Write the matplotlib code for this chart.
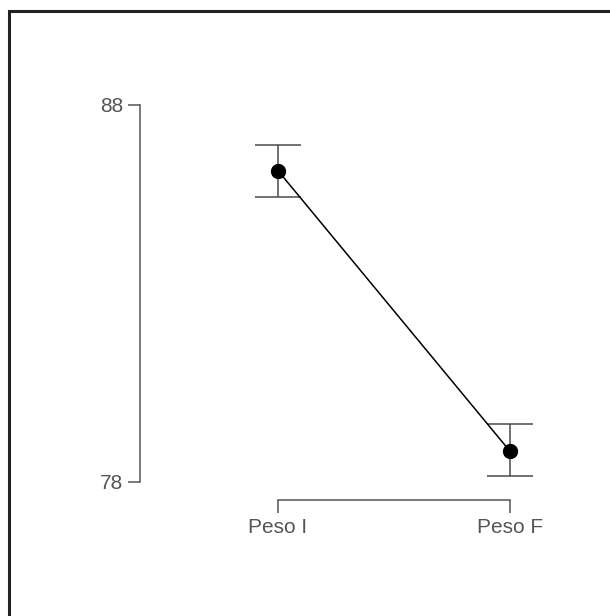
import matplotlib
matplotlib.use("Agg")
import matplotlib.pyplot as plt
from matplotlib.patches import Rectangle

# --- DATA ---
conditions = ["Peso I", "Peso F"]
means = [86.26, 78.82]
ci_lower = [85.57, 78.14]
ci_upper = [86.95, 79.52]
y_ticks = [78, 88]

plt.rcParams["font.family"] = ["Liberation Sans", "DejaVu Sans"]

W, H = 610, 616
fig = plt.figure(figsize=(W / 100, H / 100), dpi=100)

# axes placed so that the y spine sits at x=140 px and the 78..88 range spans 105..482 px
ax = fig.add_axes([140 / W, 1 - 481.7 / H, (556 - 140) / W, (481.7 - 105) / H])
ax.set_xlim(-0.595, 1.2)
ax.set_ylim(78, 88)

x = list(range(len(conditions)))
yerr = [[m - lo for m, lo in zip(means, ci_lower)],
        [hi - m for m, hi in zip(means, ci_upper)]]

ax.errorbar(x, means, yerr=yerr, fmt="none", ecolor="#4a4a4a",
            elinewidth=1.1, capsize=16.5, capthick=1.1, zorder=2)
ax.plot(x, means, color="black", linewidth=1.1, zorder=3)
ax.plot(x, means, "o", color="black", markersize=10, zorder=4)

grey = "#555555"
for side in ["top", "right"]:
    ax.spines[side].set_visible(False)
ax.spines["left"].set_bounds(y_ticks[0], y_ticks[-1])
ax.spines["bottom"].set_bounds(x[0], x[-1])
ax.spines["bottom"].set_position(("outward", 13.2))
for side in ["left", "bottom"]:
    ax.spines[side].set_color(grey)
    ax.spines[side].set_linewidth(1.1)

ax.set_yticks(y_ticks)
ax.set_xticks(x)
ax.set_xticklabels(conditions)
ax.tick_params(axis="y", length=8.6, width=1.1, color=grey, labelcolor=grey,
               labelsize=15, pad=3.6)
ax.tick_params(axis="x", length=9.3, width=1.1, color=grey, labelcolor=grey,
               labelsize=15, pad=3.4)
ax.patch.set_visible(False)

# cropped screenshot frame: only top and left edges are visible
fig.patches.append(Rectangle((8.5 / W, -0.5), 2, 1.5 - 11 / H, transform=fig.transFigure,
                             fill=False, edgecolor="#222222", linewidth=2.2))

fig.savefig("out.png", dpi=100, facecolor="white")
